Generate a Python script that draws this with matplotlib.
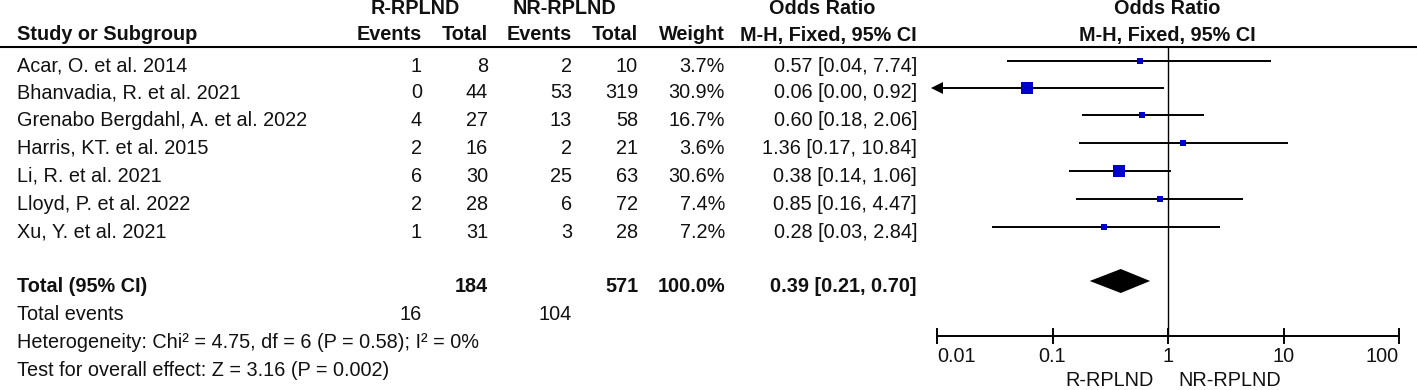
# Forest plot: R-RPLND vs NR-RPLND, odds ratios (M-H, fixed)
import numpy as np
import matplotlib
matplotlib.use('Agg')
import matplotlib.pyplot as plt

plt.rcParams['font.family'] = ['Liberation Sans', 'DejaVu Sans']

# data
studies = ['Acar, O. et al. 2014', 'Bhanvadia, R. et al. 2021',
           'Grenabo Bergdahl, A. et al. 2022', 'Harris, KT. et al. 2015',
           'Li, R. et al. 2021', 'Lloyd, P. et al. 2022', 'Xu, Y. et al. 2021']
r_events = [1, 0, 4, 2, 6, 2, 1]
r_total = [8, 44, 27, 16, 30, 28, 31]
nr_events = [2, 53, 13, 2, 25, 6, 3]
nr_total = [10, 319, 58, 21, 63, 72, 28]
weights = [3.7, 30.9, 16.7, 3.6, 30.6, 7.4, 7.2]
or_est = [0.57, 0.06, 0.60, 1.36, 0.38, 0.85, 0.28]
ci_lo = [0.04, 0.00, 0.18, 0.17, 0.14, 0.16, 0.03]
ci_hi = [7.74, 0.92, 2.06, 10.84, 1.06, 4.47, 2.84]

pooled = (0.39, 0.21, 0.70)
total_r, total_nr = 184, 571
events_r, events_nr = 16, 104
het_text = 'Heterogeneity: Chi² = 4.75, df = 6 (P = 0.58); I² = 0%'
z_text = 'Test for overall effect: Z = 3.16 (P = 0.002)'
ticks = [0.01, 0.1, 1, 10, 100]
tick_labels = ['0.01', '0.1', '1', '10', '100']

# layout (pixels)
W, H = 1417, 390
fs = 14.3
row_y = [66, 93, 120, 148, 176, 204, 232]
total_y = 287
col_study = 17
col_re, col_rt = 422, 488
col_ne, col_nt = 572, 638
col_w, col_or = 725, 917
axis_y = 336
blue = '#0000cc'
txt = '#111111'

fig = plt.figure(figsize=(W / 100, H / 100), dpi=100)
ax = fig.add_axes([0, 0, 1, 1])
ax.set_xlim(0, W)
ax.set_ylim(H, 0)
ax.axis('off')

def t(x, y, s, ha='right', bold=False):
    ax.text(x, y, s, ha=ha, va='center', fontsize=fs, color=txt,
            fontweight='bold' if bold else 'normal')

# headers
t(415, 9, 'R-RPLND', ha='center', bold=True)
t(564, 9, 'NR-RPLND', ha='center', bold=True)
t(822, 9, 'Odds Ratio', ha='center', bold=True)
t(1167, 9, 'Odds Ratio', ha='center', bold=True)
t(col_study, 35, 'Study or Subgroup', ha='left', bold=True)
t(col_re, 35, 'Events', bold=True)
t(col_rt, 35, 'Total', bold=True)
t(col_ne, 35, 'Events', bold=True)
t(col_nt, 35, 'Total', bold=True)
t(col_w, 35, 'Weight', bold=True)
t(col_or, 35, 'M-H, Fixed, 95% CI', bold=True)
t(1167, 35, 'M-H, Fixed, 95% CI', ha='center', bold=True)
ax.plot([0, W], [47, 47], color='black', lw=1.5)

# study rows
for i, y in enumerate(row_y):
    t(col_study, y, studies[i], ha='left')
    t(col_re, y, str(r_events[i]))
    t(col_rt, y, str(r_total[i]))
    t(col_ne, y, str(nr_events[i]))
    t(col_nt, y, str(nr_total[i]))
    t(col_w, y, f'{weights[i]:.1f}%')
    t(col_or, y, f'{or_est[i]:.2f} [{ci_lo[i]:.2f}, {ci_hi[i]:.2f}]')

# totals
t(col_study, total_y, 'Total (95% CI)', ha='left', bold=True)
t(col_rt, total_y, str(total_r), bold=True)
t(col_nt, total_y, str(total_nr), bold=True)
t(col_w, total_y, '100.0%', bold=True)
t(col_or, total_y, f'{pooled[0]:.2f} [{pooled[1]:.2f}, {pooled[2]:.2f}]', bold=True)
t(col_study, 315, 'Total events', ha='left')
t(col_re, 315, str(events_r))
t(col_ne, 315, str(events_nr))
t(col_study, 343, het_text, ha='left')
t(col_study, 370, z_text, ha='left')

# forest panel on log scale
fa = fig.add_axes([937 / W, 0, 462 / W, 1])
fa.set_xscale('log')
fa.set_xlim(0.01, 100)
fa.set_ylim(H, 0)
fa.axis('off')

fa.plot([1, 1], [47, axis_y], color='black', lw=1.0)
for i, y in enumerate(row_y):
    ym = y - 5
    lo = max(ci_lo[i], 0.01)
    fa.plot([lo, ci_hi[i]], [ym, ym], color='black', lw=1.4, solid_capstyle='butt')
    if ci_lo[i] < 0.01:
        fa.plot([0.01], [ym], marker='<', color='black', markersize=8,
                markeredgewidth=0, clip_on=False)
    side = max(6, 0.4 * weights[i])
    fa.plot([or_est[i]], [ym], marker='s', color=blue, markersize=side * 0.72,
            markeredgewidth=0, linestyle='none')

# pooled diamond
yd = total_y - 6
fa.fill([pooled[1], pooled[0], pooled[2], pooled[0]], [yd, yd - 12, yd, yd + 12],
        color='black', lw=0)

# x axis
fa.plot([0.01, 100], [axis_y, axis_y], color='black', lw=1.4, clip_on=False)
for k, (v, lab) in enumerate(zip(ticks, tick_labels)):
    fa.plot([v, v], [axis_y - 7, axis_y + 7], color='black', lw=1.4, clip_on=False)
    ha = 'left' if k == 0 else ('right' if k == len(ticks) - 1 else 'center')
    fa.text(v, 357, lab, ha=ha, va='center', fontsize=fs, color=txt, clip_on=False)
fa.text(0.31, 390, 'R-RPLND', ha='center', va='bottom', fontsize=fs, color=txt)
fa.text(3.4, 390, 'NR-RPLND', ha='center', va='bottom', fontsize=fs, color=txt)

fig.savefig('out.png', dpi=100)
